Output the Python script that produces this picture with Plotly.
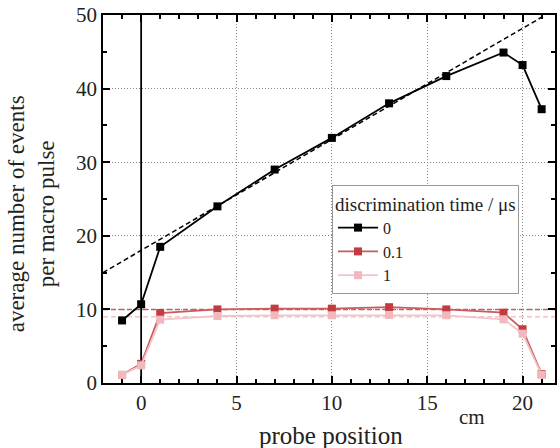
import plotly.graph_objects as go

positions = [-1, 0, 1, 4, 7, 10, 13, 16, 19, 20, 21]
events_t0 = [8.5, 10.7, 18.5, 24.0, 29.0, 33.3, 38.0, 41.7, 44.9, 43.2, 37.2]
events_t01 = [1.1, 2.6, 9.5, 10.0, 10.1, 10.1, 10.3, 10.0, 9.55, 7.3, 1.2]
events_t1 = [1.1, 2.4, 8.6, 9.1, 9.2, 9.2, 9.25, 9.2, 8.65, 6.7, 1.1]

fit_x = [-2, 21.2]
fit_y = [15.0, 50.0]
level_x = [-2, 22]
level_01 = [10.0, 10.0]
level_1 = [9.0, 9.0]
zero_line_x = [0, 0]
zero_line_y = [0, 50]

BLACK = "#000000"
RED_LINE = "#cc5a5e"
RED_MARK = "#c23b40"
PINK_LINE = "#f2c4c8"
PINK_MARK = "#efb9bd"
FONT = "Liberation Serif, Times New Roman, serif"

fig = go.Figure()

fig.add_trace(go.Scatter(x=zero_line_x, y=zero_line_y, mode="lines",
                         line=dict(color=BLACK, width=1.8), showlegend=False, hoverinfo="skip"))
fig.add_trace(go.Scatter(x=fit_x, y=fit_y, mode="lines",
                         line=dict(color=BLACK, width=1.5, dash="5px,3px"), showlegend=False))
fig.add_trace(go.Scatter(x=level_x, y=level_1, mode="lines",
                         line=dict(color=PINK_LINE, width=1.5, dash="5px,3px"), showlegend=False))
fig.add_trace(go.Scatter(x=level_x, y=level_01, mode="lines",
                         line=dict(color=RED_LINE, width=1.5, dash="5px,3px"), showlegend=False))

fig.add_trace(go.Scatter(x=positions, y=events_t0, mode="lines+markers", name="0",
                         line=dict(color=BLACK, width=1.8),
                         marker=dict(symbol="square", size=8, color=BLACK)))
fig.add_trace(go.Scatter(x=positions, y=events_t01, mode="lines+markers", name="0.1",
                         line=dict(color=RED_LINE, width=1.8),
                         marker=dict(symbol="square", size=8, color=RED_MARK)))
fig.add_trace(go.Scatter(x=positions, y=events_t1, mode="lines+markers", name="1",
                         line=dict(color=PINK_LINE, width=1.8),
                         marker=dict(symbol="square", size=8, color=PINK_MARK)))

axis_common = dict(
    showline=True, linecolor=BLACK, linewidth=1.8, mirror="ticks",
    ticks="inside", ticklen=7, tickwidth=1.5, tickcolor=BLACK,
    showgrid=True, gridcolor="#8a8a8a", griddash="1px,2px", gridwidth=1,
    zeroline=False,
    tickfont=dict(family=FONT, size=21, color="#222222"),
)

fig.update_xaxes(range=[-2, 21.7], tickvals=[0, 5, 10, 15, 20],
                 minor=dict(dtick=1, tick0=0, ticks="inside", ticklen=4, tickcolor=BLACK, showgrid=False),
                 **axis_common)
fig.update_yaxes(range=[0, 50], tickvals=[0, 10, 20, 30, 40, 50],
                 minor=dict(dtick=5, tick0=0, ticks="inside", ticklen=4, tickcolor=BLACK, showgrid=False),
                 **axis_common)

fig.update_layout(
    width=560, height=448,
    margin=dict(l=103, r=3, t=15, b=65),
    paper_bgcolor="white", plot_bgcolor="white",
    font=dict(family=FONT, color="#222222"),
    legend=dict(
        x=(333 - 103) / 454, y=(383 - 185) / 368, xanchor="left", yanchor="top",
        bgcolor="white", bordercolor="#999999", borderwidth=1,
        title=dict(text="discrimination time / μs", font=dict(family=FONT, size=19)),
        font=dict(family=FONT, size=16),
        itemwidth=40, tracegroupgap=0,
    ),
    annotations=[
        dict(text="probe position", xref="paper", yref="paper", x=(332 - 103) / 454, y=-(435 - 383) / 368,
             xanchor="center", yanchor="middle", showarrow=False, font=dict(family=FONT, size=25)),
        dict(text="cm", xref="paper", yref="paper", x=(474 - 103) / 454, y=-(417 - 383) / 368,
             xanchor="center", yanchor="middle", showarrow=False, font=dict(family=FONT, size=21)),
        dict(text="average number of events<br>per macro pulse", xref="paper", yref="paper",
             x=-(103 - 31) / 454, y=0.5, yshift=-15, textangle=-90, xanchor="center", yanchor="middle",
             showarrow=False, font=dict(family=FONT, size=23)),
    ],
)

fig.write_html("out.html", config={"displayModeBar": False},
               post_script="document.body.style.margin='0';document.body.style.padding='0';")
